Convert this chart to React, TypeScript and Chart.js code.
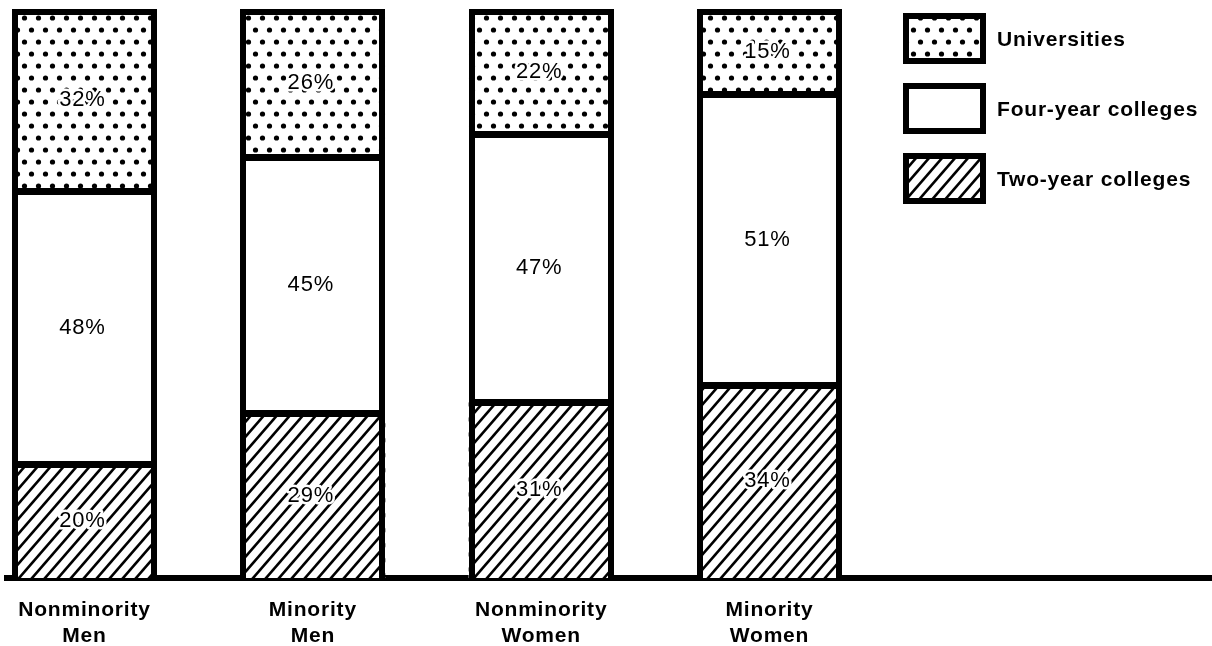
import React, { useEffect, useRef } from "react";
import { Chart, registerables } from "chart.js";

Chart.register(...registerables);

// ---- data ----
const groupNames: string[][] = [
  ["Nonminority", "Men"],
  ["Minority", "Men"],
  ["Nonminority", "Women"],
  ["Minority", "Women"],
];
const groupPositions = [0, 1, 2, 3];
const seriesNames = ["Two-year colleges", "Four-year colleges", "Universities"];
const twoYear = [20, 29, 31, 34];
const fourYear = [48, 45, 47, 51];
const universities = [32, 26, 22, 15];

const FONT = "'Liberation Sans', Arial, Helvetica, sans-serif";

function makeDots(): CanvasPattern | string {
  const c = document.createElement("canvas");
  c.width = 14;
  c.height = 24;
  const g = c.getContext("2d");
  if (!g) return "#fff";
  g.fillStyle = "#fff";
  g.fillRect(0, 0, 14, 24);
  g.fillStyle = "#000";
  const dot = (x: number, y: number) => {
    g.beginPath();
    g.arc(x, y, 2.6, 0, Math.PI * 2);
    g.fill();
  };
  dot(3.5, 6);
  dot(10.5, 18);
  return g.createPattern(c, "repeat") || "#fff";
}

function makeHatch(): CanvasPattern | string {
  const w = 13;
  const h = 15;
  const c = document.createElement("canvas");
  c.width = w;
  c.height = h;
  const g = c.getContext("2d");
  if (!g) return "#fff";
  g.fillStyle = "#fff";
  g.fillRect(0, 0, w, h);
  g.strokeStyle = "#000";
  g.lineWidth = 2.6;
  for (const k of [-1, 0, 1]) {
    const dx = k * w;
    g.beginPath();
    g.moveTo(dx - w, 2 * h);
    g.lineTo(dx + 2 * w, -h);
    g.stroke();
  }
  return g.createPattern(c, "repeat") || "#fff";
}

const spacing = {
  id: "spacing",
  beforeDraw(chart: any) {
    (chart.ctx as any).letterSpacing = "0.8px";
  },
  afterDraw(chart: any) {
    (chart.ctx as any).letterSpacing = "0px";
  },
};

// heavy outlines around each stacked column and between its segments
const outlines = {
  id: "outlines",
  afterDatasetsDraw(chart: any) {
    const ctx = chart.ctx as CanvasRenderingContext2D;
    const n = chart.data.datasets.length;
    const metas = Array.from({ length: n }, (_, d) => chart.getDatasetMeta(d));
    const count = metas[0].data.length;
    ctx.save();
    ctx.fillStyle = "#000";
    for (let i = 0; i < count; i++) {
      const els = metas.map((m: any) => m.data[i]);
      const first = els[0];
      const half = first.width / 2;
      const left = Math.round(first.x - half);
      const right = Math.round(first.x + half);
      const base = Math.round(first.base);
      const top = Math.round(Math.min(...els.map((e: any) => e.y)));
      const side = 6;
      ctx.fillRect(left, top, side, base - top);
      ctx.fillRect(right - side, top, side, base - top);
      ctx.fillRect(left, top, right - left, 6);
      for (let d = 0; d < n - 1; d++) {
        const yb = Math.round(els[d].y);
        ctx.fillRect(left, yb - 3, right - left, 7);
      }
    }
    ctx.restore();
  },
};

const percentLabels = {
  id: "percentLabels",
  afterDatasetsDraw(chart: any) {
    const ctx = chart.ctx as CanvasRenderingContext2D;
    ctx.save();
    ctx.font = `22px ${FONT}`;
    ctx.textAlign = "center";
    ctx.textBaseline = "middle";
    ctx.lineJoin = "round";
    chart.data.datasets.forEach((ds: any, di: number) => {
      const meta = chart.getDatasetMeta(di);
      meta.data.forEach((el: any, i: number) => {
        const v = ds.data[i].y;
        const tx = el.x - 2;
        const ty = (el.y + el.base) / 2;
        ctx.strokeStyle = "#fff";
        ctx.lineWidth = 5;
        ctx.strokeText(`${v}%`, tx, ty);
        ctx.fillStyle = "#000";
        ctx.fillText(`${v}%`, tx, ty);
      });
    });
    ctx.restore();
  },
};

const boxLegend = {
  id: "boxLegend",
  afterDraw(chart: any) {
    const ctx = chart.ctx as CanvasRenderingContext2D;
    const items = chart.data.datasets.slice().reverse();
    ctx.save();
    (ctx as any).letterSpacing = "0.8px";
    items.forEach((ds: any, j: number) => {
      const x = 903;
      const y = 13 + j * 70;
      const w = 83;
      const h = 51;
      const b = 6;
      ctx.fillStyle = "#000";
      ctx.fillRect(x, y, w, h);
      ctx.fillStyle = ds.backgroundColor;
      ctx.fillRect(x + b, y + b, w - 2 * b, h - 2 * b);
      ctx.fillStyle = "#000";
      ctx.font = `bold 21px ${FONT}`;
      ctx.textAlign = "left";
      ctx.textBaseline = "middle";
      ctx.fillText(ds.label, 997, y + h / 2 + 2);
    });
    ctx.restore();
  },
};

export default function App() {
  const ref = useRef<HTMLCanvasElement | null>(null);

  useEffect(() => {
    if (!ref.current) return;
    const dots = makeDots();
    const hatch = makeHatch();
    const toPts = (arr: number[]) => arr.map((v, i) => ({ x: groupPositions[i], y: v }));
    const chart = new Chart(ref.current, {
      type: "bar",
      data: {
        datasets: [
          {
            label: seriesNames[0],
            data: toPts(twoYear),
            backgroundColor: hatch as any,
            borderWidth: 0,
          },
          {
            label: seriesNames[1],
            data: toPts(fourYear),
            backgroundColor: "#fff",
            borderWidth: 0,
          },
          {
            label: seriesNames[2],
            data: toPts(universities),
            backgroundColor: dots as any,
            borderWidth: 0,
          },
        ] as any,
      },
      options: {
        animation: false,
        responsive: true,
        maintainAspectRatio: false,
        layout: { padding: { top: 9, left: 7, right: 0, bottom: 0 } },
        datasets: {
          bar: { barPercentage: 0.635, categoryPercentage: 1, inflateAmount: 0 },
        } as any,
        plugins: {
          legend: { display: false },
          tooltip: { enabled: false },
        },
        scales: {
          x: {
            type: "linear",
            offset: false,
            min: -0.3394,
            max: 4.938,
            stacked: true,
            afterBuildTicks: (axis: any) => {
              axis.ticks = groupPositions.map((v) => ({ value: v }));
            },
            grid: { display: false, drawTicks: false, tickLength: 0, offset: false },
            border: { display: true, color: "#000", width: 6 },
            ticks: {
              autoSkip: false,
              maxRotation: 0,
              minRotation: 0,
              padding: 19,
              color: "#000",
              font: { family: FONT, size: 21, weight: "bold", lineHeight: "26px" } as any,
              callback: (value: any) => {
                const idx = groupPositions.indexOf(Number(value));
                return idx >= 0 ? groupNames[idx] : "";
              },
            },
          },
          y: {
            display: false,
            stacked: true,
            min: 0,
            max: 100,
          },
        },
      },
      plugins: [spacing, outlines, percentLabels, boxLegend],
    });
    return () => chart.destroy();
  }, []);

  return (
    <div
      style={{
        position: "fixed",
        left: 0,
        top: 0,
        width: 1212,
        height: 646,
        overflow: "hidden",
        background: "#fff",
      }}
    >
      <div style={{ position: "relative", width: 1212, height: 668 }}>
        <canvas ref={ref} />
      </div>
    </div>
  );
}
